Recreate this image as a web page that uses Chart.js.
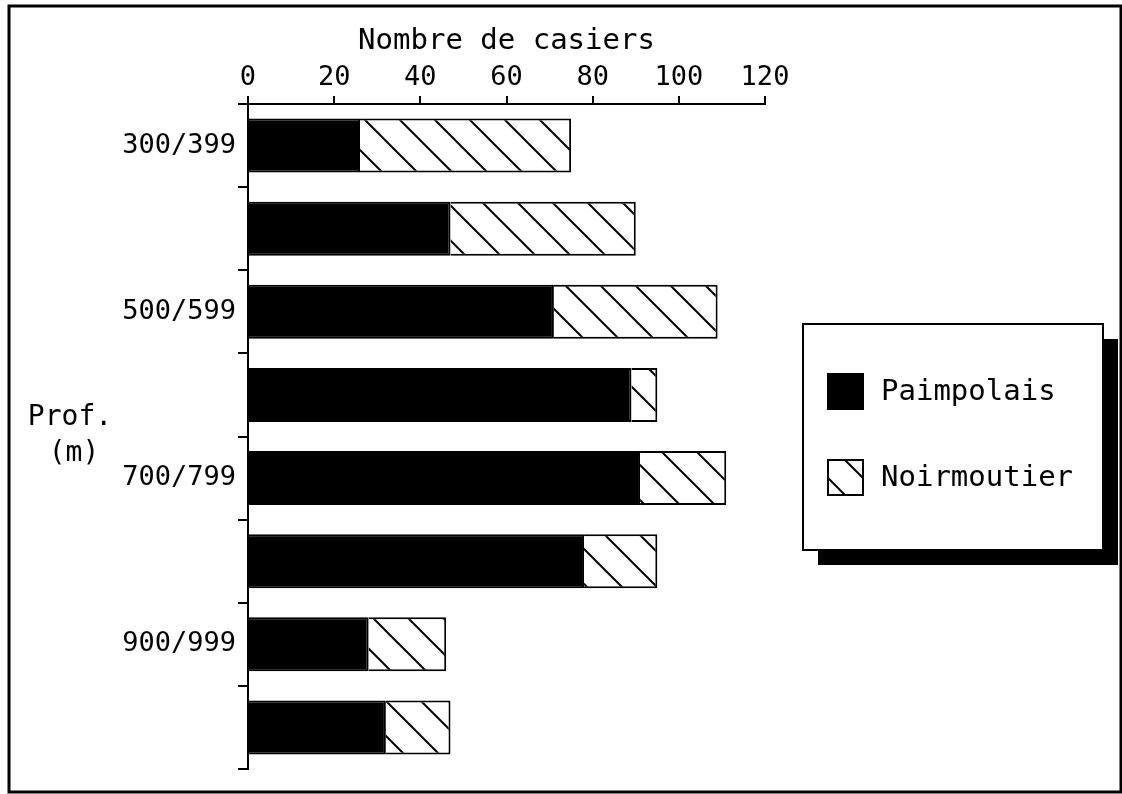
<!DOCTYPE html>
<html>
<head>
<meta charset="utf-8">
<script src="https://cdn.jsdelivr.net/npm/chart.js@4.4.0/dist/chart.umd.min.js"></script>
<style>
  html, body { margin: 0; padding: 0; background: #fff; }
  #wrap { width: 1122px; height: 794px; position: relative; }
</style>
</head>
<body>
<div id="wrap"><canvas id="chart" width="1122" height="794"></canvas></div>
<script>
const depths = ['300/399', '400/499', '500/599', '600/699', '700/799', '800/899', '900/999', '1000/1099'];
const paimpolais = [26, 47, 71, 89, 91, 78, 28, 32];
const noirmoutier = [49, 43, 38, 6, 20, 17, 18, 15];
const xTicks = [0, 20, 40, 60, 80, 100, 120];

const FONT = "'DejaVu Sans Mono', 'Liberation Mono', monospace";

function makeHatch() {
    const s = 35;
    const c = document.createElement('canvas');
    c.width = s; c.height = s;
    const g = c.getContext('2d');
    g.fillStyle = '#fff';
    g.fillRect(0, 0, s, s);
    g.strokeStyle = '#000';
    g.lineWidth = 2;
    g.beginPath();
    g.moveTo(-2, -2); g.lineTo(s + 2, s + 2);
    g.moveTo(s - 3, -3); g.lineTo(s + 3, 3);
    g.moveTo(-3, s - 3); g.lineTo(3, s + 3);
    g.stroke();
    return g.createPattern(c, 'repeat');
}
const hatch = makeHatch();

// frame, depth label and shadowed legend box
const decor = {
    id: 'decor',
    afterDraw(chart) {
        const ctx = chart.ctx;
        const a = chart.chartArea;
        ctx.save();
        ctx.strokeStyle = '#000';
        ctx.lineWidth = 3;
        ctx.strokeRect(9, 6, chart.width - 10, chart.height - 8);

        ctx.fillStyle = '#000';
        ctx.textAlign = 'center';
        ctx.textBaseline = 'middle';
        ctx.font = '28px ' + FONT;
        ctx.fillText('Prof.', 70, 418);
        ctx.fillText('(m)', 74, 454);

        // legend
        const lx = a.right + 38, ly = 324, lw = 300, lh = 226;
        ctx.fillRect(lx + 15, ly + 15, lw, lh);
        ctx.fillStyle = '#fff';
        ctx.fillRect(lx, ly, lw, lh);
        ctx.lineWidth = 2;
        ctx.strokeRect(lx, ly, lw, lh);
        ctx.textAlign = 'left';
        ctx.font = '29px ' + FONT;
        chart.data.datasets.forEach((ds, i) => {
            const by = ly + 50 + i * 86;
            ctx.fillStyle = ds.backgroundColor;
            ctx.fillRect(lx + 25, by, 35, 35);
            ctx.strokeStyle = '#000';
            ctx.lineWidth = 2;
            ctx.strokeRect(lx + 25, by, 35, 35);
            ctx.fillStyle = '#000';
            ctx.fillText(ds.label, lx + 78, by + 18);
        });
        ctx.restore();
    }
};

new Chart(document.getElementById('chart'), {
    type: 'bar',
    data: {
        labels: depths,
        datasets: [
            {
                label: 'Paimpolais',
                data: paimpolais,
                backgroundColor: '#000',
                borderColor: '#000',
                borderWidth: 2
            },
            {
                label: 'Noirmoutier',
                data: noirmoutier,
                backgroundColor: hatch,
                borderColor: '#000',
                borderWidth: 2
            }
        ]
    },
    options: {
        indexAxis: 'y',
        responsive: false,
        animation: false,
        events: [],
        layout: { padding: { left: 0, top: 24, right: 357, bottom: 25 } },
        datasets: {
            bar: { barPercentage: 0.65, categoryPercentage: 1 }
        },
        plugins: {
            legend: { display: false },
            tooltip: { enabled: false }
        },
        scales: {
            x: {
                position: 'top',
                stacked: true,
                min: 0,
                max: 120,
                afterBuildTicks: scale => {
                    scale.ticks = xTicks.map(v => ({ value: v }));
                },
                afterFit: scale => { scale.height = 80; },
                border: { display: true, color: '#000', width: 2 },
                grid: { drawOnChartArea: false, color: '#000', lineWidth: 2, tickLength: 8 },
                ticks: {
                    color: '#000',
                    font: { family: FONT, size: 27 },
                    padding: 2,
                    maxRotation: 0
                },
                title: {
                    display: true,
                    text: 'Nombre de casiers',
                    color: '#000',
                    font: { family: FONT, size: 29 },
                    padding: { top: 0, bottom: 0 }
                }
            },
            y: {
                stacked: true,
                afterFit: scale => { scale.width = 248; },
                border: { display: true, color: '#000', width: 2 },
                grid: { drawOnChartArea: false, offset: true, color: '#000', lineWidth: 2, tickLength: 10 },
                ticks: {
                    color: '#000',
                    autoSkip: false,
                    font: { family: FONT, size: 27 },
                    padding: 2,
                    callback: function (value, index) {
                        return index % 2 === 0 ? this.getLabelForValue(value) : '';
                    }
                }
            }
        }
    },
    plugins: [decor]
});
</script>
</body>
</html>
